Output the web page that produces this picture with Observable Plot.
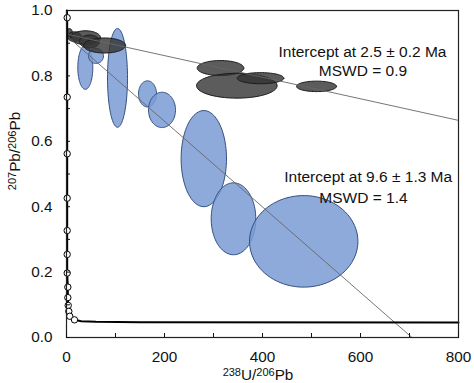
<!DOCTYPE html>
<html><head><meta charset="utf-8">
<script src="https://cdn.jsdelivr.net/npm/d3@7"></script>
<script src="https://cdn.jsdelivr.net/npm/@observablehq/plot@0.6"></script>
<style>body{margin:0;background:#fff;} svg{display:block;}</style>
</head><body><div id="chart"></div>
<script>
// Blue ellipses (older discordia): centre and semi-axes in data units
const blueCx = [38.4, 60.2, 104.1, 165.3, 194.9, 280.2, 340.8, 484.1];
const blueCy = [0.826, 0.861, 0.794, 0.745, 0.696, 0.547, 0.363, 0.294];
const blueRx = [15.3, 15.3, 20.4, 18.4, 27.6, 46.3, 45.5, 110.6];
const blueRy = [0.067, 0.023, 0.151, 0.040, 0.054, 0.147, 0.110, 0.140];
// Grey ellipses (younger discordia)
const greyCx = [6.1, 16.3, 38.8, 46.9, 77.6, 314.3, 347.6, 395.9, 510.2];
const greyCy = [0.930, 0.920, 0.917, 0.905, 0.893, 0.824, 0.770, 0.793, 0.768];
const greyRx = [6.1, 14.3, 30.6, 20.4, 42.9, 47.6, 82.2, 47.6, 40.8];
const greyRy = [0.015, 0.015, 0.021, 0.020, 0.023, 0.023, 0.038, 0.017, 0.016];
// Concordia curve and its age markers
const concX = [0.8, 1.4, 1.4, 1.4, 1.4, 1.4, 1.4, 1.4, 2.7, 2.7, 3.5, 4.7, 6.7, 10, 16.3, 30, 60, 150, 800];
const concY = [1.0, 0.978, 0.735, 0.562, 0.426, 0.327, 0.254, 0.197, 0.154, 0.122, 0.098, 0.080, 0.065, 0.058, 0.054, 0.050, 0.048, 0.047, 0.046];
const markX = [1.4, 1.4, 1.4, 1.4, 1.4, 1.4, 1.4, 2.7, 2.7, 3.5, 4.7, 6.7, 16.3];
const markY = [0.978, 0.735, 0.562, 0.426, 0.327, 0.254, 0.197, 0.154, 0.122, 0.098, 0.080, 0.065, 0.054];
// Discordia regression lines (end points)
const disc1X = [0, 800], disc1Y = [0.928, 0.664];
const disc2X = [0, 705], disc2Y = [0.923, 0];
// Ticks
const xTicksMinor = [0, 100, 200, 300, 400, 500, 600, 700, 800];
const xTickLabels = [0, 200, 400, 600, 800];
const yTicksMinor = [0, 0.1, 0.2, 0.3, 0.4, 0.5, 0.6, 0.7, 0.8, 0.9, 1.0];
const yTickLabels = [0, 0.2, 0.4, 0.6, 0.8, 1.0];
// Annotations
const annText = ["Intercept at 2.5 ± 0.2 Ma", "MSWD = 0.9", "Intercept at 9.6 ± 1.3 Ma", "MSWD = 1.4"];
const annX = [604, 605, 615.7, 606];
const annY = [0.8725, 0.815, 0.490, 0.425];

function ellipses(cx, cy, rx, ry) {
  const out = [];
  cx.forEach((c, k) => {
    const n = 90;
    for (let i = 0; i < n; i++) {
      const t = 2 * Math.PI * i / n;
      out.push({x: c + rx[k] * Math.cos(t), y: cy[k] + ry[k] * Math.sin(t), g: k});
    }
  });
  return out;
}
const bluePts = ellipses(blueCx, blueCy, blueRx, blueRy);
const greyPts = ellipses(greyCx, greyCy, greyRx, greyRy);
const conc = concX.map((x, i) => ({x, y: concY[i]}));
const marks = markX.map((x, i) => ({x, y: markY[i]}));
const d1 = disc1X.map((x, i) => ({x, y: disc1Y[i]}));
const d2 = disc2X.map((x, i) => ({x, y: disc2Y[i]}));
const ann = annText.map((t, i) => ({t, x: annX[i], y: annY[i]}));

const plot = Plot.plot({
  width: 474, height: 383,
  marginLeft: 66, marginRight: 16, marginTop: 10, marginBottom: 46,
  style: {fontFamily: "'Liberation Sans', Arial, sans-serif", fontSize: "15.3px", background: "#fff", color: "#111"},
  x: {domain: [0, 800]},
  y: {domain: [0, 1]},
  marks: [
    Plot.line(bluePts, {x: "x", y: "y", z: "g", curve: "linear-closed", fill: "#7a9bd5", fillOpacity: 0.85, stroke: "#34507e", strokeWidth: 1}),
    Plot.line(greyPts, {x: "x", y: "y", z: "g", curve: "linear-closed", fill: "#333333", fillOpacity: 0.8, stroke: "#1a1a1a", strokeWidth: 1}),
    Plot.line(d1, {x: "x", y: "y", stroke: "#666", strokeWidth: 0.9}),
    Plot.line(d2, {x: "x", y: "y", stroke: "#666", strokeWidth: 0.9}),
    Plot.line(conc, {x: "x", y: "y", stroke: "#000", strokeWidth: 2, curve: "linear"}),
    Plot.dot(marks, {x: "x", y: "y", r: 3.2, fill: "#fff", stroke: "#000", strokeWidth: 1}),
    Plot.text(ann, {x: "x", y: "y", text: "t", textAnchor: "middle", fontSize: 15.5, fill: "#111"}),
    Plot.frame({stroke: "#222", strokeWidth: 1.2}),
    Plot.axisX(xTicksMinor, {tickSize: -4, tickFormat: () => "", label: null, strokeWidth: 1}),
    Plot.axisX(xTickLabels, {tickSize: 0, tickPadding: 14, tickFormat: d => String(d), label: null}),
    Plot.axisY(yTicksMinor, {tickSize: -4, tickFormat: () => "", label: null, strokeWidth: 1}),
    Plot.axisY(yTickLabels, {tickSize: 0, tickPadding: 14, tickFormat: d3.format(".1f"), label: null})
  ]
});
document.getElementById("chart").append(plot);

const svg = d3.select(plot);
// y-axis label
const yl = svg.append("text").attr("transform", "translate(20,151) rotate(-90)")
  .attr("text-anchor", "middle").attr("fill", "#111").attr("font-size", "15.3px");
yl.append("tspan").attr("font-size", "11px").attr("dy", -4.5).text("207");
yl.append("tspan").attr("dy", 4.5).text("Pb/");
yl.append("tspan").attr("font-size", "11px").attr("dy", -4.5).text("206");
yl.append("tspan").attr("dy", 4.5).text("Pb");
// x-axis label
const xl = svg.append("text").attr("x", 258).attr("y", 380)
  .attr("text-anchor", "middle").attr("fill", "#111").attr("font-size", "15.3px");
xl.append("tspan").attr("font-size", "11px").attr("dy", -4).text("238");
xl.append("tspan").attr("dy", 4).text("U/");
xl.append("tspan").attr("font-size", "11px").attr("dy", -4).text("206");
xl.append("tspan").attr("dy", 4).text("Pb");
</script>
</body></html>
